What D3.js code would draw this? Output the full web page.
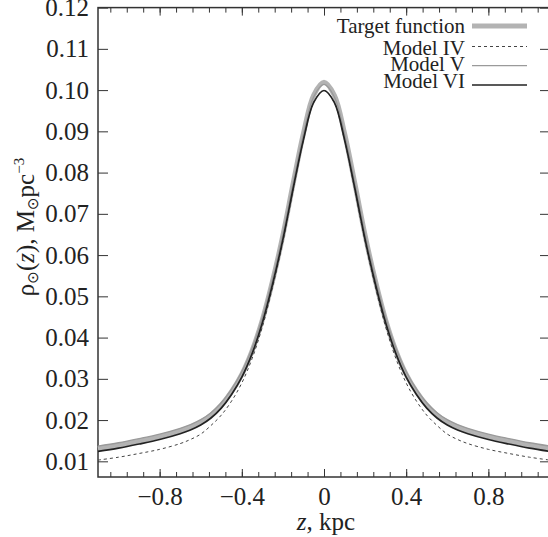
<!DOCTYPE html>
<html>
<head>
<meta charset="utf-8">
<script src="https://cdn.jsdelivr.net/npm/d3@7"></script>
<style>
  body { margin: 0; background: #fff; }
  svg { display: block; font-family: "Liberation Serif", "Times New Roman", serif; }
  .tick line { stroke: #333; stroke-width: 1; }
</style>
</head>
<body>
<svg id="chart"></svg>
<script>
let width = 548, height = 537;
let margin = {left: 98, right: -2, top: 7.6, bottom: 60};
let serif = '"Liberation Serif", "Times New Roman", serif';

// z grid, kpc
let zValues = [-1.1, -1.0, -0.9, -0.8, -0.7, -0.65, -0.6, -0.55, -0.5, -0.45, -0.4, -0.35, -0.3, -0.25, -0.2, -0.15, -0.1, -0.05,
               0, 0.05, 0.1, 0.15, 0.2, 0.25, 0.3, 0.35, 0.4, 0.45, 0.5, 0.55, 0.6, 0.65, 0.7, 0.8, 0.9, 1.0, 1.1];

let targetValues = [0.0131, 0.0139, 0.0149, 0.0160, 0.0174, 0.0183, 0.0195, 0.0212, 0.0236, 0.0269, 0.0311, 0.0368, 0.0443, 0.0538, 0.0648, 0.0774, 0.0895, 0.0988,
                    0.1019, 0.0988, 0.0895, 0.0774, 0.0648, 0.0538, 0.0443, 0.0368, 0.0311, 0.0269, 0.0236, 0.0212, 0.0195, 0.0183, 0.0174, 0.0160, 0.0149, 0.0139, 0.0131];
let model4Values = [0.0103, 0.0110, 0.0119, 0.0129, 0.0143, 0.0153, 0.0166, 0.0187, 0.0212, 0.0246, 0.0290, 0.0349, 0.0426, 0.0523, 0.0633, 0.0759, 0.0879, 0.0970,
                    0.0999, 0.0970, 0.0879, 0.0759, 0.0633, 0.0523, 0.0426, 0.0349, 0.0290, 0.0246, 0.0212, 0.0187, 0.0166, 0.0153, 0.0143, 0.0129, 0.0119, 0.0110, 0.0103];
let model5Values = [0.0137, 0.0145, 0.0155, 0.0166, 0.0180, 0.0189, 0.0201, 0.0218, 0.0242, 0.0275, 0.0317, 0.0374, 0.0449, 0.0543, 0.0651, 0.0775, 0.0893, 0.0984,
                    0.1014, 0.0984, 0.0893, 0.0775, 0.0651, 0.0543, 0.0449, 0.0374, 0.0317, 0.0275, 0.0242, 0.0218, 0.0201, 0.0189, 0.0180, 0.0166, 0.0155, 0.0145, 0.0137];
let model6Values = [0.0124, 0.0132, 0.0142, 0.0153, 0.0167, 0.0176, 0.0188, 0.0205, 0.0229, 0.0262, 0.0304, 0.0361, 0.0436, 0.0530, 0.0638, 0.0762, 0.0880, 0.0970,
                    0.0999, 0.0970, 0.0880, 0.0762, 0.0638, 0.0530, 0.0436, 0.0361, 0.0304, 0.0262, 0.0229, 0.0205, 0.0188, 0.0176, 0.0167, 0.0153, 0.0142, 0.0132, 0.0124];

let seriesNames = ['Target function', 'Model IV', 'Model V', 'Model VI'];
let xTickValues = [-0.8, -0.4, 0, 0.4, 0.8];
let xTickLabels = ['\u22120.8', '\u22120.4', '0', '0.4', '0.8'];
let yTickValues = [0.01, 0.02, 0.03, 0.04, 0.05, 0.06, 0.07, 0.08, 0.09, 0.10, 0.11, 0.12];
let yTickLabels = ['0.01', '0.02', '0.03', '0.04', '0.05', '0.06', '0.07', '0.08', '0.09', '0.10', '0.11', '0.12'];

let styles = [
  {stroke: '#b3b3b3', width: 5, dash: null},
  {stroke: '#444', width: 1, dash: '3,3'},
  {stroke: '#9a9a9a', width: 1.3, dash: null},
  {stroke: '#222', width: 1.7, dash: null}
];

let svg = d3.select('#chart').attr('width', width).attr('height', height);

let xScale = d3.scaleLinear().domain([-1.1, 1.1]).range([margin.left, width - margin.right]);
let yScale = d3.scaleLinear().domain([0.0062, 0.12]).range([height - margin.bottom, margin.top]);

let x0 = xScale.range()[0], x1 = xScale.range()[1];
let y0 = yScale.range()[0], y1 = yScale.range()[1];

// minor x ticks every 0.08 kpc
let minorX = d3.range(-13, 14).map(i => i * 0.08).filter(v => Math.abs(v) <= 1.1);

function tickAxis(axis, g) {
  g.call(axis);
  g.attr('font-family', serif).attr('font-size', 25);
  g.selectAll('text').attr('fill', '#222').attr('font-family', serif);
  g.select('.domain').remove();
}

// bottom
tickAxis(d3.axisBottom(xScale).tickValues(minorX).tickSize(-5).tickFormat(''),
  svg.append('g').attr('transform', `translate(0,${y0})`));
tickAxis(d3.axisBottom(xScale).tickValues(xTickValues).tickSize(-8).tickPadding(10)
  .tickFormat((d, i) => xTickLabels[i]),
  svg.append('g').attr('transform', `translate(0,${y0})`));
// top
tickAxis(d3.axisTop(xScale).tickValues(minorX).tickSize(-5).tickFormat(''),
  svg.append('g').attr('transform', `translate(0,${y1})`));
tickAxis(d3.axisTop(xScale).tickValues(xTickValues).tickSize(-8).tickFormat(''),
  svg.append('g').attr('transform', `translate(0,${y1})`));
// left
tickAxis(d3.axisLeft(yScale).tickValues(yTickValues).tickSize(-10).tickPadding(9)
  .tickFormat((d, i) => yTickLabels[i]),
  svg.append('g').attr('transform', `translate(${x0},0)`));
// right
tickAxis(d3.axisRight(yScale).tickValues(yTickValues).tickSize(-10).tickFormat(''),
  svg.append('g').attr('transform', `translate(${x1},0)`));

// frame
svg.append('rect')
  .attr('x', x0).attr('y', y1)
  .attr('width', x1 - x0).attr('height', y0 - y1)
  .attr('fill', 'none').attr('stroke', '#333').attr('stroke-width', 1.5);

// curves
let seriesValues = [targetValues, model4Values, model5Values, model6Values];
let line = d3.line()
  .x(d => xScale(d[0]))
  .y(d => yScale(d[1]))
  .curve(d3.curveCatmullRom.alpha(0.5));

let curves = svg.append('g');
seriesValues.forEach((vals, i) => {
  curves.append('path')
    .datum(zValues.map((z, j) => [z, vals[j]]))
    .attr('d', line)
    .attr('fill', 'none')
    .attr('stroke', styles[i].stroke)
    .attr('stroke-width', styles[i].width)
    .attr('stroke-dasharray', styles[i].dash);
});

// legend
let legendLineY = [26, 46.5, 65.7, 85];
let legendTextY = [33, 55, 71, 88];
let legend = svg.append('g');
seriesNames.forEach((name, i) => {
  legend.append('text')
    .attr('x', 465).attr('y', legendTextY[i])
    .attr('text-anchor', 'end')
    .attr('font-size', 21).attr('fill', '#222')
    .text(name);
  legend.append('line')
    .attr('x1', 472).attr('x2', 527)
    .attr('y1', legendLineY[i]).attr('y2', legendLineY[i])
    .attr('stroke', styles[i].stroke)
    .attr('stroke-width', styles[i].width)
    .attr('stroke-dasharray', styles[i].dash);
});

// axis titles
let xt = svg.append('text')
  .attr('x', (x0 + x1) / 2 + 2).attr('y', 530)
  .attr('text-anchor', 'middle').attr('font-size', 25).attr('fill', '#222');
xt.append('tspan').attr('font-style', 'italic').text('z');
xt.append('tspan').text(', kpc');

let yt = svg.append('text')
  .attr('transform', 'translate(34,227) rotate(-90)')
  .attr('text-anchor', 'middle').attr('font-size', 25).attr('fill', '#222');
yt.append('tspan').text('\u03c1');
yt.append('tspan').attr('font-size', 15).attr('dy', 4).attr('font-family', 'DejaVu Sans').text('\u2299');
yt.append('tspan').attr('dy', -4).text('(');
yt.append('tspan').attr('font-style', 'italic').text('z');
yt.append('tspan').text('), M');
yt.append('tspan').attr('font-size', 15).attr('dy', 4).attr('font-family', 'DejaVu Sans').text('\u2299');
yt.append('tspan').attr('dy', -4).text('pc');
yt.append('tspan').attr('font-size', 15).attr('dy', -10).text('\u22123');
</script>
</body>
</html>
